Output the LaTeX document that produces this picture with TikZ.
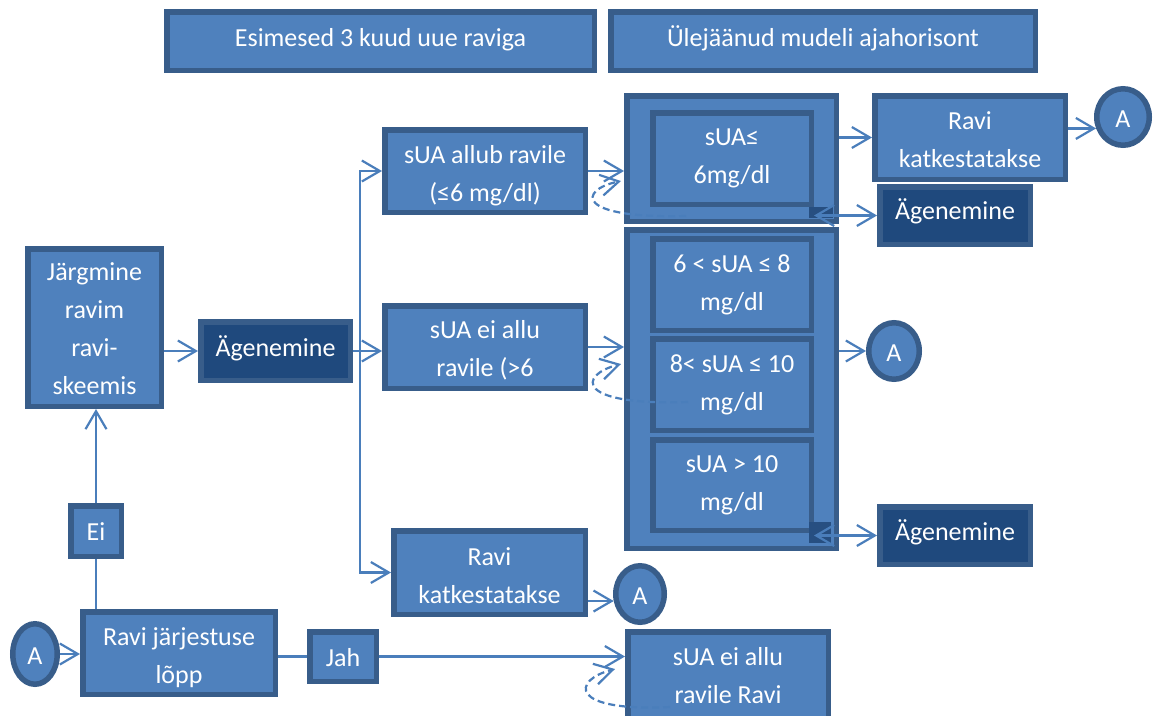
\documentclass[tikz,border=0pt]{standalone}
\usepackage{fontspec}
\setmainfont{Carlito}
\usetikzlibrary{arrows.meta,shapes.geometric}
\definecolor{bfill}{HTML}{4F81BD}
\definecolor{bline}{HTML}{385D8A}
\definecolor{dfill}{HTML}{1F497D}
\definecolor{lnc}{HTML}{4A7EBB}
% struts that place the text block: #1 = downward shift of the text
\newcommand\SETS[1]{\pgfmathsetmacro\Hs{24+max(0,2*(#1))}\pgfmathsetmacro\Ds{7+max(0,-2*(#1))}}
\newcommand\TXT[1]{\rule{0pt}{\Hs pt}#1\rule[-\Ds pt]{0pt}{\Ds pt}}
\newcommand\BX[8]{\SETS{#8}\node[#2, minimum width={#5-#3-5.5}, minimum height={#6-#4-5.5}] (#1) at ({(#3+#5)/2},{(#4+#6)/2}) {\TXT{#7}};}
\newcommand\EL[7]{\SETS{#7}\node[circ, minimum width={2*#4-5.5}, minimum height={2*#5-5.5}] (#1) at (#2,#3) {\TXT{#6}};}
\begin{document}
\begin{tikzpicture}[x=1pt,y=-1pt,
  base/.style={draw=bline, line width=5.5pt, text=white, inner sep=0pt, align=center, font=\fontsize{26}{38}\selectfont},
  box/.style={base, fill=bfill, rectangle},
  dbox/.style={base, fill=dfill, rectangle},
  circ/.style={base, fill=bfill, ellipse},
  ln/.style={draw=lnc, line width=2.2pt},
  arr/.style={ln, -{Straight Barb[length=18pt,width=21pt]}},
  darr/.style={ln, {Straight Barb[length=18pt,width=21pt]}-{Straight Barb[length=18pt,width=21pt]}},
  dsh/.style={arr, dash pattern=on 7pt off 4pt},
  corner/.style={fill=dfill!70!bline}
]
\fill[white] (0,0) rectangle (1155,715);
\useasboundingbox (0,0) rectangle (1155,715);

% header
\BX{hdr1}{box}{164}{9}{597}{73}{Esimesed 3 kuud uue raviga}{-3.5}
\BX{hdr2}{box}{608}{9}{1038}{73}{Ülejäänud mudeli ajahorisont}{-3}

% left column
\BX{jarg}{box}{25}{246}{164}{409}{Järgmine\\ravim\\ravi-\\skeemis}{1.7}
\BX{ag1}{dbox}{198}{319}{353}{383}{Ägenemine}{-3.5}
\BX{ei}{box}{68}{503}{124}{559}{Ei}{1.2}
\BX{ravijarj}{box}{80}{609}{278}{697}{Ravi järjestuse\\lõpp}{3.2}
\EL{A4}{35}{654}{25}{33}{A}{1.5}
\BX{jah}{box}{307}{629}{379}{684}{Jah}{1}

% middle column
\BX{allub}{box}{382}{127}{588}{215}{sUA allub ravile\\(≤6 mg/dl)}{2.8}
\BX{eiallu}{box}{382}{303}{588}{391}{sUA ei allu\\ravile (>6}{1.8}
\BX{ravikat1}{box}{391}{528}{588}{617}{Ravi\\katkestatakse}{3.7}
\EL{A1}{640}{594}{27}{31}{A}{1.5}

% right upper group
\BX{outer1}{box}{624}{93}{839}{224}{}{0}
\BX{in1}{box}{650}{110}{814}{207}{sUA≤\\6mg/dl}{-2.5}
\BX{ravikat2}{box}{872}{93}{1068}{182}{Ravi\\katkestatakse}{2.5}
\EL{A2}{1123}{117}{29}{31}{A}{1.8}
\BX{ag2}{dbox}{877}{184}{1033}{247}{Ägenemine}{-4.7}

% right middle group
\BX{outer2}{box}{624}{227}{839}{551}{}{0}
\BX{in2a}{box}{650}{236}{814}{333}{6 < sUA ≤ 8\\mg/dl}{-1.7}
\BX{in2b}{box}{650}{336}{814}{433}{8< sUA ≤ 10\\mg/dl}{-1.7}
\BX{in2c}{box}{650}{437}{814}{533}{sUA > 10\\mg/dl}{-2.2}
\EL{A3}{894}{351}{28}{31}{A}{2.2}
\BX{ag3}{dbox}{877}{504}{1033}{567}{Ägenemine}{-4}

% bottom right
\BX{eiallu2}{box}{625}{629}{831}{724}{sUA ei allu\\ravile Ravi}{-1}

% small corner squares
\fill[corner] (809,207) rectangle (833,218);
\fill[corner] (809,522) rectangle (831,543);

% coordinates
\coordinate (trunk) at (360,0);
\coordinate (l1a) at (686,216);
\coordinate (l1b) at (621,181);
\coordinate (l2a) at (688,402);
\coordinate (l2b) at (621,364);
\coordinate (l3a) at (670,707);
\coordinate (l3b) at (615,669);

% connectors
\draw[arr] (jarg.east |- ag1.west) -- (ag1.west);
\draw[arr] (ag1.east) -- (ag1.east -| eiallu.west);
\draw[arr] (ag1.east -| trunk) |- (allub.west);
\draw[arr] (ag1.east -| trunk) |- (ravikat1.west);

\draw[arr] (allub.east) -- (allub.east -| outer1.west);
\draw[dsh] (l1a) .. controls (575,219) and (578,190) .. (l1b);
\draw[arr] (eiallu.east) -- (eiallu.east -| outer2.west);
\draw[dsh] (l2a) .. controls (575,406) and (578,375) .. (l2b);

\draw[arr] (ravikat2.west -| outer1.east) -- (ravikat2.west);
\draw[arr] (ravikat2.east |- A2.203) -- (A2.203);
\draw[darr] (ag2.west -| in1.east) -- (ag2.west);
\draw[arr] (A3.west -| outer2.east) -- (A3.west);
\draw[darr] (ag3.west -| in2c.east) -- (ag3.west);
\draw[arr] (ravikat1.east |- A1.195) -- (A1.195);

\draw[arr] (A4.east) -- (A4.east -| ravijarj.west);
\draw[ln] (ei.south) -- (ei.south |- ravijarj.north);
\draw[arr] (ei.north) -- (ei.north |- jarg.south);
\draw[ln] (jah.west -| ravijarj.east) -- (jah.west);
\draw[arr] (jah.east) -- (jah.east -| eiallu2.west);
\draw[dsh] (l3a) .. controls (568,712) and (572,680) .. (l3b);
\end{tikzpicture}
\end{document}
